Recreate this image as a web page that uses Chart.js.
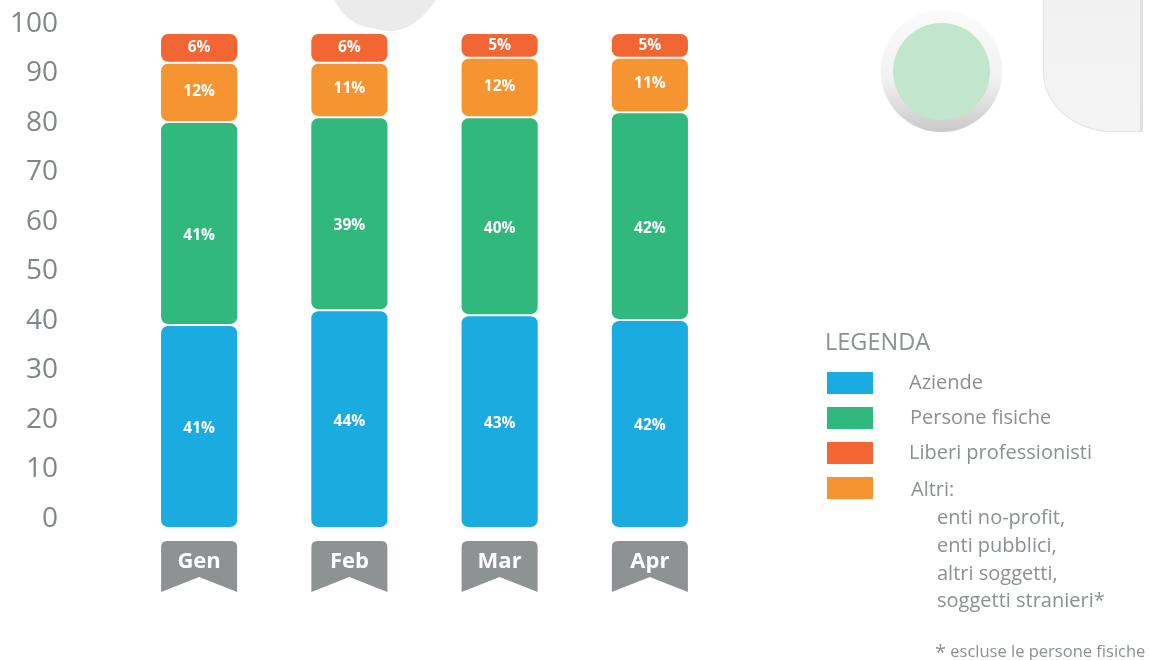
<!DOCTYPE html>
<html>
<head>
<meta charset="utf-8">
<script src="https://cdn.jsdelivr.net/npm/chart.js@4"></script>
<style>
  html, body { margin:0; padding:0; background:#fff; }
  #wrap { position:relative; width:1149px; height:660px; overflow:hidden; font-family:"Open Sans", sans-serif; }
  #c { position:absolute; left:0; top:0; z-index:2; }
  .deco { position:absolute; z-index:1; }
  #blob { left:324px; top:-94px; width:126px; height:124px; background:#ebebeb; border-radius:10% 50% 60% 60% / 10% 40% 100% 90%; transform:rotate(12deg); }
  #ring { left:881px; top:11px; width:121px; height:121px; border-radius:50%;
          background:linear-gradient(#fafafa 0%, #f2f2f2 55%, #c9c9c9 100%); box-shadow:0 0 2px #eee; }
  #dot { left:893px; top:23px; width:97px; height:97px; border-radius:50%; background:#c2e5cd; }
  #panel { left:1043px; top:-10px; width:96px; height:140px; background:linear-gradient(#f1f1f1, #f4f4f4);
           border:1px solid #e2e2e2; border-right:3px solid #e0e0e0; border-radius:0 0 0 70px / 0 0 0 60px; }
  .leg { position:absolute; z-index:3; color:#8a9094; font-size:20px; line-height:1; white-space:nowrap; }
  .sw { position:absolute; z-index:3; width:46px; height:22px; }
</style>
</head>
<body>
<div id="wrap">
  <div class="deco" id="blob"></div>
  <div class="deco" id="ring"></div>
  <div class="deco" id="dot"></div>
  <div class="deco" id="panel"></div>
  <canvas id="c" width="1149" height="660"></canvas>
  <div class="leg" style="left:825px;top:330px;font-size:23.5px;">LEGENDA</div>
  <div class="sw" style="left:827px;top:372px;background:#1aabe1;"></div>
  <div class="sw" style="left:827px;top:407px;background:#30b87d;"></div>
  <div class="sw" style="left:827px;top:442px;background:#f26634;"></div>
  <div class="sw" style="left:827px;top:477px;background:#f59431;"></div>
  <div class="leg" style="left:909px;top:372px;">Aziende</div>
  <div class="leg" style="left:910px;top:407px;">Persone fisiche</div>
  <div class="leg" style="left:909px;top:442px;">Liberi professionisti</div>
  <div class="leg" style="left:911px;top:479px;">Altri:</div>
  <div class="leg" style="left:937px;top:507px;">enti no-profit,</div>
  <div class="leg" style="left:937px;top:535px;">enti pubblici,</div>
  <div class="leg" style="left:937px;top:563px;">altri soggetti,</div>
  <div class="leg" style="left:937px;top:590px;">soggetti stranieri*</div>
  <div class="leg" style="left:935px;top:640px;font-size:16.5px;"><span style="font-size:20px;position:relative;top:2px;">*</span> escluse le persone fisiche</div>
</div>
<script>
const categories = ["Gen", "Feb", "Mar", "Apr"];
const aziende = [41, 44, 43, 42];
const personeFisiche = [41, 39, 40, 42];
const altri = [12, 11, 12, 11];
const liberiProfessionisti = [6, 6, 5, 5];
const yTicks = [0, 10, 20, 30, 40, 50, 60, 70, 80, 90, 100];

const seriesNames = ["Aziende", "Persone fisiche", "Altri", "Liberi professionisti"];
const seriesColors = ["#1aabe1", "#30b87d", "#f59431", "#f26634"];
const seriesData = [aziende, personeFisiche, altri, liberiProfessionisti];
const labelShift = [2, 12, -1, 0];

const radius = {topLeft: 8, topRight: 8, bottomLeft: 8, bottomRight: 8};

const valueLabels = {
  id: 'valueLabels',
  afterDatasetsDraw(chart) {
    const ctx = chart.ctx;
    ctx.save();
    ctx.fillStyle = '#ffffff';
    ctx.font = 'bold 15.5px "Open Sans", sans-serif';
    ctx.textAlign = 'center';
    ctx.textBaseline = 'middle';
    chart.data.datasets.forEach((ds, di) => {
      chart.getDatasetMeta(di).data.forEach((bar, i) => {
        const p = bar.getProps(['x', 'y', 'base'], true);
        ctx.fillText(ds.data[i] + '%', p.x, (p.y + p.base) / 2 + labelShift[di]);
      });
    });
    ctx.restore();
  }
};

const tabLabels = {
  id: 'tabLabels',
  afterDraw(chart) {
    const ctx = chart.ctx;
    const xs = chart.scales.x;
    const top = chart.chartArea.bottom + 13, bottom = top + 51, notch = top + 36, w = 76, r = 6;
    ctx.save();
    categories.forEach((lab, i) => {
      const cx = xs.getPixelForValue(i);
      const l = cx - w / 2, rr = cx + w / 2;
      ctx.beginPath();
      ctx.moveTo(l, bottom);
      ctx.lineTo(l, top + r);
      ctx.quadraticCurveTo(l, top, l + r, top);
      ctx.lineTo(rr - r, top);
      ctx.quadraticCurveTo(rr, top, rr, top + r);
      ctx.lineTo(rr, bottom);
      ctx.lineTo(cx, notch);
      ctx.closePath();
      ctx.fillStyle = '#8e9293';
      ctx.fill();
      ctx.fillStyle = '#ffffff';
      ctx.font = 'bold 22px "Open Sans", sans-serif';
      ctx.textAlign = 'center';
      ctx.textBaseline = 'middle';
      ctx.fillText(lab, cx, top + 21);
    });
    ctx.restore();
  }
};

new Chart(document.getElementById('c'), {
  type: 'bar',
  data: {
    labels: categories,
    datasets: seriesData.map((d, k) => ({
      label: seriesNames[k],
      data: d,
      backgroundColor: seriesColors[k],
      borderColor: '#ffffff',
      borderWidth: 1,
      borderSkipped: false,
      borderRadius: radius,
      barPercentage: 1,
      categoryPercentage: 0.52
    }))
  },
  options: {
    responsive: false,
    animation: false,
    layout: { padding: { left: 0, right: 424, top: 33, bottom: 132 } },
    plugins: { legend: { display: false }, tooltip: { enabled: false } },
    scales: {
      x: { stacked: true, display: false },
      y: {
        stacked: true,
        min: 0, max: 100,
        afterBuildTicks(axis) { axis.ticks = yTicks.map(v => ({ value: v })); },
        afterFit(axis) { axis.width = 124; axis.paddingTop = 0; axis.paddingBottom = 0; },
        grid: { display: false, drawTicks: false },
        border: { display: false },
        ticks: {
          padding: 66,
          labelOffset: -9,
          color: '#80868a',
          font: { family: '"Open Sans", sans-serif', size: 28 }
        }
      }
    }
  },
  plugins: [valueLabels, tabLabels]
});
</script>
</body>
</html>
